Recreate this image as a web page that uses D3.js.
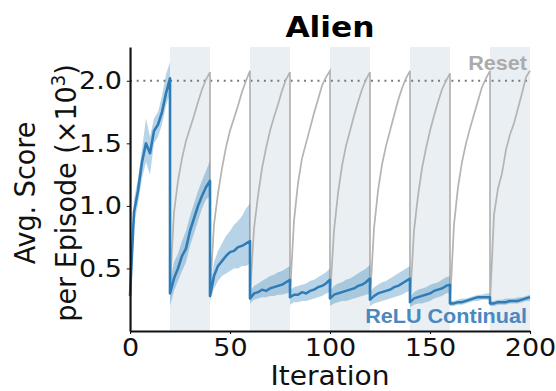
<!DOCTYPE html>
<html>
<head>
<meta charset="utf-8">
<script src="https://cdn.jsdelivr.net/npm/d3@7"></script>
<style>
  body { margin: 0; background: #fff; }
  #chart { width: 556px; height: 391px; }
</style>
</head>
<body>
<div id="chart"></div>
<script>
// reset boundaries, every 20 iterations
var resetIters = [20, 40, 60, 80, 100, 120, 140, 160, 180];
var shadedSpans = [[20, 40], [60, 80], [100, 120], [140, 160], [180, 200]];
var stepOffsets = [0, 2, 4, 6, 8, 10, 12, 14, 16, 18, 20];
var xTicks = [0, 50, 100, 150, 200];
var yTicks = [0.5, 1.0, 1.5, 2.0];
var resetLevel = 2.0;

// ReLU Continual: mean / lower / upper per 20-iteration segment
var continualMean = [
  [0.28, 0.95, 1.12, 1.35, 1.50, 1.42, 1.60, 1.65, 1.75, 1.90, 2.02],
  [0.30, 0.42, 0.50, 0.60, 0.66, 0.80, 0.90, 1.00, 1.08, 1.15, 1.20],
  [0.28, 0.44, 0.52, 0.56, 0.60, 0.63, 0.64, 0.67, 0.68, 0.70, 0.72],
  [0.26, 0.30, 0.31, 0.33, 0.32, 0.34, 0.35, 0.36, 0.37, 0.39, 0.41],
  [0.27, 0.29, 0.29, 0.31, 0.30, 0.32, 0.33, 0.35, 0.36, 0.38, 0.41],
  [0.26, 0.29, 0.30, 0.31, 0.32, 0.33, 0.34, 0.36, 0.37, 0.39, 0.42],
  [0.25, 0.28, 0.30, 0.31, 0.32, 0.33, 0.35, 0.36, 0.38, 0.40, 0.42],
  [0.23, 0.26, 0.27, 0.28, 0.29, 0.30, 0.32, 0.33, 0.34, 0.36, 0.37],
  [0.22, 0.22, 0.23, 0.23, 0.24, 0.25, 0.26, 0.27, 0.27, 0.27, 0.27],
  [0.22, 0.22, 0.23, 0.23, 0.23, 0.24, 0.24, 0.24, 0.25, 0.26, 0.27]
];
var continualLow = [
  [0.22, 0.85, 1.02, 1.22, 1.35, 1.25, 1.50, 1.55, 1.65, 1.80, 1.90],
  [0.20, 0.32, 0.40, 0.48, 0.55, 0.68, 0.78, 0.88, 0.98, 1.05, 1.08],
  [0.24, 0.34, 0.40, 0.44, 0.46, 0.48, 0.50, 0.50, 0.52, 0.52, 0.54],
  [0.22, 0.25, 0.26, 0.27, 0.27, 0.28, 0.28, 0.29, 0.29, 0.30, 0.31],
  [0.21, 0.23, 0.23, 0.24, 0.24, 0.25, 0.26, 0.27, 0.28, 0.30, 0.31],
  [0.20, 0.22, 0.23, 0.24, 0.24, 0.25, 0.26, 0.27, 0.28, 0.29, 0.30],
  [0.20, 0.22, 0.23, 0.24, 0.25, 0.26, 0.27, 0.28, 0.29, 0.31, 0.32],
  [0.19, 0.21, 0.22, 0.22, 0.23, 0.24, 0.26, 0.27, 0.28, 0.30, 0.31],
  [0.20, 0.20, 0.21, 0.21, 0.22, 0.23, 0.24, 0.24, 0.25, 0.25, 0.25],
  [0.20, 0.20, 0.21, 0.21, 0.21, 0.22, 0.22, 0.22, 0.23, 0.24, 0.24]
];
var continualHigh = [
  [0.35, 1.05, 1.22, 1.45, 1.70, 1.55, 1.70, 1.75, 1.88, 2.05, 2.15],
  [0.40, 0.55, 0.62, 0.72, 0.80, 0.92, 1.02, 1.12, 1.20, 1.28, 1.36],
  [0.35, 0.55, 0.64, 0.70, 0.76, 0.80, 0.85, 0.88, 0.92, 0.98, 1.02],
  [0.32, 0.36, 0.38, 0.40, 0.42, 0.44, 0.45, 0.47, 0.48, 0.50, 0.52],
  [0.33, 0.35, 0.36, 0.37, 0.38, 0.40, 0.41, 0.43, 0.45, 0.47, 0.50],
  [0.32, 0.36, 0.38, 0.39, 0.41, 0.42, 0.44, 0.46, 0.48, 0.50, 0.53],
  [0.31, 0.35, 0.37, 0.39, 0.40, 0.42, 0.44, 0.46, 0.48, 0.50, 0.52],
  [0.27, 0.31, 0.33, 0.34, 0.35, 0.37, 0.38, 0.39, 0.41, 0.43, 0.44],
  [0.24, 0.24, 0.25, 0.26, 0.26, 0.27, 0.28, 0.29, 0.29, 0.30, 0.30],
  [0.24, 0.24, 0.25, 0.25, 0.26, 0.26, 0.26, 0.27, 0.27, 0.28, 0.29]
];

// Reset: mean per segment, starting at iteration 20
var resetMean = [
  [0.35, 0.95, 1.20, 1.38, 1.52, 1.62, 1.72, 1.83, 1.93, 2.01, 2.07],
  [0.30, 0.85, 1.10, 1.30, 1.47, 1.60, 1.70, 1.80, 1.91, 2.00, 2.08],
  [0.28, 0.82, 1.08, 1.30, 1.46, 1.60, 1.71, 1.81, 1.92, 2.01, 2.07],
  [0.29, 0.88, 1.18, 1.38, 1.50, 1.62, 1.74, 1.85, 1.96, 2.03, 2.08],
  [0.27, 0.80, 1.10, 1.32, 1.48, 1.60, 1.72, 1.83, 1.93, 2.01, 2.07],
  [0.25, 0.82, 1.12, 1.33, 1.48, 1.60, 1.72, 1.84, 1.94, 2.02, 2.08],
  [0.24, 0.80, 1.08, 1.30, 1.46, 1.60, 1.72, 1.83, 1.93, 2.00, 2.06],
  [0.22, 0.85, 1.15, 1.35, 1.50, 1.62, 1.73, 1.84, 1.95, 2.02, 2.08],
  [0.22, 0.93, 1.14, 1.26, 1.45, 1.57, 1.66, 1.78, 1.90, 2.03, 2.08]
];

// the reference image is slightly stretched horizontally
var S = 1.08;
var W = 556 / S, H = 391;

var svg = d3.select("#chart")
    .append("svg")
    .attr("width", 556)
    .attr("height", 391)
    .attr("viewBox", "0 0 " + W + " " + H)
    .attr("preserveAspectRatio", "none");

var xScale = d3.scaleLinear().domain([0, 200]).range([130 / S, 530 / S]);
var yScale = d3.scaleLinear().domain([0, 2.27]).range([331, 47]);

function toPoints(segs, start) {
    var pts = [];
    segs.forEach(function (seg, k) {
        seg.forEach(function (v, i) {
            pts.push({ it: start + 20 * k + stepOffsets[i], v: v, k: k, i: i });
        });
    });
    return pts;
}

var contPts = toPoints(continualMean, 0).map(function (d) {
    d.lo = continualLow[d.k][d.i];
    d.hi = continualHigh[d.k][d.i];
    return d;
});
var resetPts = toPoints(resetMean, 20);

// shaded reset spans
svg.selectAll(".span")
    .data(shadedSpans)
    .enter()
    .append("rect")
    .attr("class", "span")
    .attr("x", function (d) { return xScale(d[0]); })
    .attr("width", function (d) { return xScale(d[1]) - xScale(d[0]); })
    .attr("y", yScale(2.27))
    .attr("height", yScale(0) - yScale(2.27))
    .attr("fill", "#e9eff2");

// dotted reference line
svg.append("line")
    .attr("x1", xScale(0)).attr("x2", xScale(200))
    .attr("y1", yScale(resetLevel)).attr("y2", yScale(resetLevel))
    .attr("stroke", "#777")
    .attr("stroke-width", 2)
    .attr("stroke-dasharray", "1.8,4.4");

var line = d3.line()
    .x(function (d) { return xScale(d.it); })
    .y(function (d) { return yScale(d.v); });

// Reset curve
svg.append("path")
    .datum(resetPts)
    .attr("d", line)
    .attr("fill", "none")
    .attr("stroke", "#b4b4b4")
    .attr("stroke-width", 1.6);

// Continual band and line
var area = d3.area()
    .x(function (d) { return xScale(d.it); })
    .y0(function (d) { return yScale(d.lo); })
    .y1(function (d) { return yScale(d.hi); });

svg.append("path")
    .datum(contPts)
    .attr("d", area)
    .attr("fill", "#1f77b4")
    .attr("fill-opacity", 0.32);

svg.append("path")
    .datum(contPts)
    .attr("d", line)
    .attr("fill", "none")
    .attr("stroke", "#2e7bb6")
    .attr("stroke-width", 2.4)
    .attr("stroke-linejoin", "round");

// axes
var yAxis = svg.append("g")
    .attr("class", "y axis")
    .attr("transform", "translate(" + xScale(0) + ",0)")
    .call(d3.axisLeft(yScale)
        .tickValues(yTicks)
        .tickFormat(d3.format(".1f"))
        .tickSize(3)
        .tickSizeOuter(0)
        .tickPadding(4.5));

var xAxis = svg.append("g")
    .attr("class", "x axis")
    .attr("transform", "translate(0," + yScale(0) + ")")
    .call(d3.axisBottom(xScale)
        .tickValues(xTicks)
        .tickFormat(d3.format("d"))
        .tickSize(3)
        .tickSizeOuter(0)
        .tickPadding(4));

svg.selectAll(".axis .domain").attr("stroke", "#111").attr("stroke-width", 2);
svg.selectAll(".axis .tick line").attr("stroke", "#111").attr("stroke-width", 1);
svg.selectAll(".axis text")
    .attr("fill", "#111")
    .style("font-family", "DejaVu Sans")
    .style("font-size", "25px");

// title
svg.append("text")
    .attr("x", (xScale(0) + xScale(200)) / 2)
    .attr("y", 37)
    .attr("text-anchor", "middle")
    .style("font-family", "DejaVu Sans")
    .style("font-weight", "bold")
    .style("font-size", "29px")
    .attr("fill", "#000")
    .text("Alien");

// axis labels
svg.append("text")
    .attr("x", (xScale(0) + xScale(200)) / 2)
    .attr("y", 385)
    .attr("text-anchor", "middle")
    .style("font-family", "DejaVu Sans")
    .style("font-size", "26px")
    .attr("fill", "#111")
    .text("Iteration");

var yLab = svg.append("text")
    .attr("transform", "translate(" + (35 / S) + ",193) rotate(-90)")
    .attr("text-anchor", "middle")
    .style("font-family", "DejaVu Sans")
    .style("font-size", "27px")
    .attr("fill", "#111");
yLab.append("tspan").attr("x", 0).attr("y", 0).text("Avg. Score");
var l2 = yLab.append("tspan").attr("x", 0).attr("y", 41 / S);
l2.append("tspan").text("per Episode (\u00d710");
l2.append("tspan").attr("dy", -10).style("font-size", "18px").text("3");
l2.append("tspan").attr("dy", 10).text(")");

// series labels
svg.append("text")
    .attr("x", 527 / S)
    .attr("y", 70)
    .attr("text-anchor", "end")
    .style("font-family", "Liberation Sans")
    .style("font-weight", "bold")
    .style("font-size", "20px")
    .attr("fill", "#ababab")
    .text("Reset");

svg.append("text")
    .attr("x", 527 / S)
    .attr("y", 323)
    .attr("text-anchor", "end")
    .style("font-family", "Liberation Sans")
    .style("font-weight", "bold")
    .style("font-size", "20px")
    .attr("fill", "#4a88c0")
    .text("ReLU Continual");
</script>
</body>
</html>
